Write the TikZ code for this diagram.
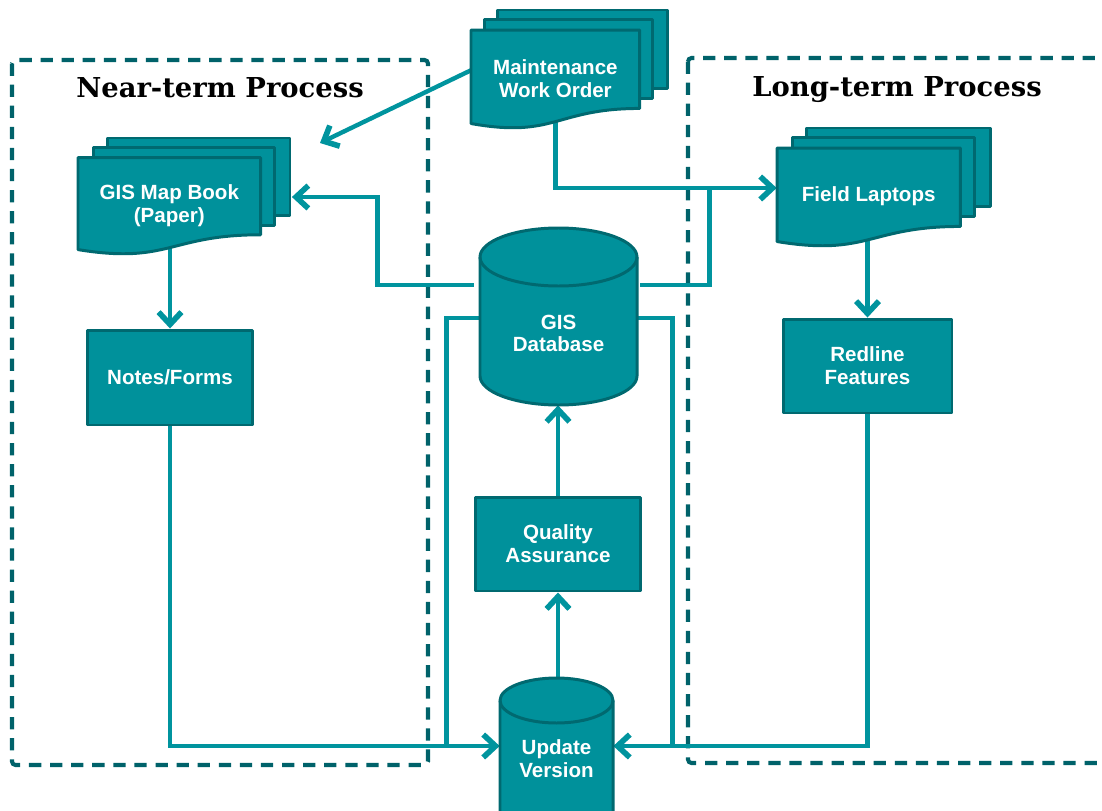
\documentclass[tikz,border=0pt]{standalone}
\usepackage{fontspec}
\setmainfont{Liberation Sans}
\newfontfamily\headfont{DejaVu Serif}
\usetikzlibrary{arrows.meta,calc}
\pgfdeclarelayer{frames}
\pgfdeclarelayer{links}
\pgfsetlayers{frames,links,main}

\definecolor{tealfill}{RGB}{0,145,155}
\definecolor{tealedge}{RGB}{0,105,112}
\definecolor{tealdash}{RGB}{0,98,106}
\definecolor{tealline}{RGB}{0,148,158}

\tikzset{
  shapeface/.style={fill=tealfill, draw=tealedge, line width=1.7pt, line join=round},
  shapetext/.style={text=white, font=\bfseries\fontsize{11.7}{13}\selectfont, align=center, inner sep=0pt},
  procbox/.style={shapeface, shapetext, rectangle},
  hotspot/.style={shapetext, rectangle},
  flow/.style={draw=tealline, line width=2.5pt},
  arr/.style={flow, -{Straight Barb[length=7pt, width=13pt, line width=3.2pt]}},
  groupframe/.style={draw=tealdash, line width=2.3pt, dash pattern=on 7pt off 5pt, rounded corners=2pt},
  heading/.style={font=\headfont\bfseries\fontsize{15.6}{18}\selectfont, inner sep=0pt, anchor=base},
}

% stack of three pages with a wavy lower edge on the front page
% #1 left, #2 top, #3 width, #4 height (all in pixel units)
\newcommand\stackdoc[4]{%
  \begin{scope}[shift={(#1,#2)}, xscale=#3, yscale=#4]
    \path[shapeface] (0.1376,0) rectangle (1,0.6663);
    \path[shapeface] (0.0709,0.0840) rectangle (0.9259,0.7524);
    \path[shapeface] (0,0.1701) -- (0.8609,0.1701) -- (0.8609,0.8343)
      .. controls (0.4305,0.8343) and (0.4305,1.0899) .. (0,0.9621) -- cycle;
  \end{scope}}

% upright cylinder: #1 left, #2 top, #3 right, #4 bottom, #5 cap radius
\newcommand\drumshape[5]{%
  \pgfmathsetmacro\dcx{(#1+#3)/2}%
  \pgfmathsetmacro\dkx{0.5523*(#3-#1)/2}%
  \pgfmathsetmacro\dky{0.5523*#5}%
  \path[shapeface] (#1,{#2+#5}) -- (#1,{#4-#5})
     .. controls (#1,{#4-#5+\dky}) and ({\dcx-\dkx},#4) .. (\dcx,#4)
     .. controls ({\dcx+\dkx},#4) and (#3,{#4-#5+\dky}) .. (#3,{#4-#5})
     -- (#3,{#2+#5})
     .. controls (#3,{#2+#5-\dky}) and ({\dcx+\dkx},#2) .. (\dcx,#2)
     .. controls ({\dcx-\dkx},#2) and (#1,{#2+#5-\dky}) .. (#1,{#2+#5}) -- cycle;
  \draw[tealedge, line width=1.7pt] (#1,{#2+#5})
     .. controls (#1,{#2+#5+\dky}) and ({\dcx-\dkx},{#2+2*#5}) .. (\dcx,{#2+2*#5})
     .. controls ({\dcx+\dkx},{#2+2*#5}) and (#3,{#2+#5+\dky}) .. (#3,{#2+#5});
}

\begin{document}
\begin{tikzpicture}[x=0.02cm, y=-0.02cm]
\useasboundingbox (0,0) rectangle (1102,811);
\clip (0,0) rectangle (1102,811);

% process groups
\begin{pgfonlayer}{frames}
  \draw[groupframe] (12,60) rectangle (428,765);
  \draw[groupframe] (688,58) rectangle (1150,763);
\end{pgfonlayer}
\node[heading] (nearhead) at (220,98) {Near-term Process};
\node[heading] (longhead) at (897,97) {Long-term Process};

% document stacks
\stackdoc{471}{10}{196}{118}
\node[hotspot, minimum width=3.374cm, minimum height=1.936cm] (mwo) at (555.4,78.4) {Maintenance\\Work Order};
\stackdoc{78}{138}{212}{116}
\node[hotspot, minimum width=3.65cm, minimum height=1.902cm] (book) at (169.3,205.3) {GIS Map Book\\(Paper)};
\stackdoc{777}{128}{213}{118}
\node[hotspot, minimum width=3.668cm, minimum height=1.936cm] (laptops) at (868.7,196.4) {Field Laptops};

% process boxes
\node[procbox, minimum width=3.32cm, minimum height=1.9cm] (notes) at (170,377.5) {Notes/Forms};
\node[procbox, minimum width=3.38cm, minimum height=1.88cm] (redline) at (867.5,366) {Redline\\Features};
\node[procbox, minimum width=3.32cm, minimum height=1.88cm] (qa) at (558,544) {Quality\\Assurance};

% data stores
\drumshape{480}{228}{637}{405}{29}
\node[rectangle, inner sep=0pt, minimum width=3.14cm, minimum height=3.54cm] (db) at (558.5,316.5) {};
\node[shapetext] (dbtext) at (558.5,333.5) {GIS\\Database};
\drumshape{500}{678}{613}{850}{22.5}
\node[rectangle, inner sep=0pt, minimum width=2.26cm, minimum height=3.44cm] (uv) at (556.5,764) {};
\node[shapetext] (uvtext) at (556.5,758.5) {Update\\Version};

% connector end points
\coordinate (bookin) at (320,143);
\coordinate (bookin2) at ($(book.east)+(31,-8.3)$);
\coordinate (lapin) at ($(laptops.west)+(0,-8.4)$);

\begin{pgfonlayer}{links}
  \draw[arr] ($(mwo.west)+(0,-8)$) -- (bookin);
  \draw[arr] ($(mwo.south)+(0,-10)$) |- (lapin);
  \draw[arr] ($(db.west)+(-6,-31.5)$) -- ++(-96,0) |- (bookin2);
  \draw[flow] ($(db.east)+(3,-31.5)$) -| ($(lapin)+(-67,0)$);
  \draw[flow] ($(db.west)+(0,1.5)$) -| ($(uv.west)+(-53,-18)$);
  \draw[flow] ($(db.east)+(0,1.5)$) -| ($(uv.east)+(59,-18)$);
  \draw[arr] ($(notes.north |- book.south)+(0,-15)$) -- (notes.north);
  \draw[arr] ($(redline.north |- laptops.south)+(0,-15)$) -- (redline.north);
  \draw[arr] (notes.south) |- ($(uv.west)+(0,-18)$);
  \draw[arr] (redline.south) |- ($(uv.east)+(0,-18)$);
  \draw[arr] (qa.south |- uv.north) -- (qa.south);
  \draw[arr] (qa.north) -- (qa.north |- db.south);
\end{pgfonlayer}
\end{tikzpicture}
\end{document}
